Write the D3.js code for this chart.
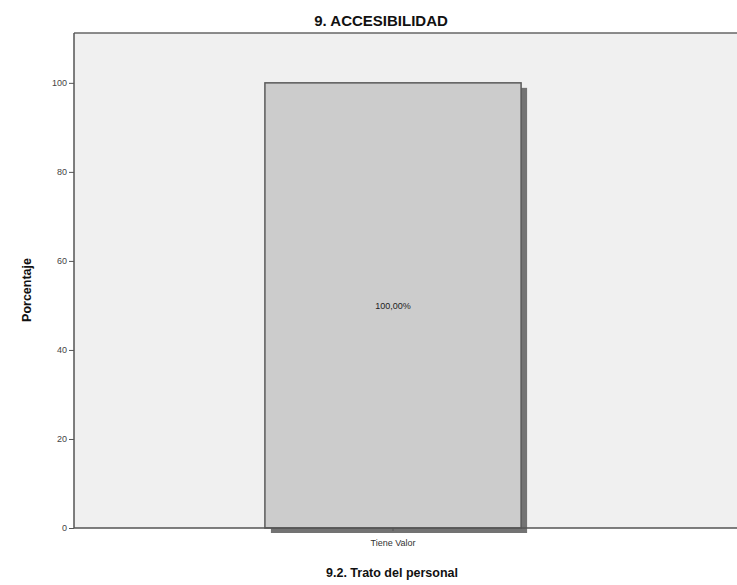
<!DOCTYPE html>
<html>
<head>
<meta charset="utf-8">
<script src="https://cdn.jsdelivr.net/npm/d3@7"></script>
<style>
  body { margin: 0; background: #fff; }
  svg { display: block; font-family: "Liberation Sans", Arial, sans-serif; }
</style>
</head>
<body>
<svg id="chart" width="737" height="585"></svg>
<script>
const categories = ["Tiene Valor"];
const values = [100];
const valueLabels = ["100,00%"];
const yTicks = [0, 20, 40, 60, 80, 100];
const chartTitle = "9. ACCESIBILIDAD";
const xTitle = "9.2. Trato del personal";
const yTitle = "Porcentaje";

const svg = d3.select("#chart");
const plot = { left: 74, top: 33, right: 737, bottom: 528 };

const x = d3.scaleBand().domain(categories).range([plot.left, 712]).padding(0.427);
const y = d3.scaleLinear().domain([0, 111.2]).range([plot.bottom, plot.top]);

// plot background
svg.append("rect")
  .attr("x", plot.left).attr("y", plot.top)
  .attr("width", plot.right - plot.left).attr("height", plot.bottom - plot.top)
  .attr("fill", "#f0f0f0");

// bar shadows
svg.selectAll("rect.shadow").data(values).join("rect")
  .attr("class", "shadow")
  .attr("x", (d, i) => x(categories[i]) + 6)
  .attr("y", d => y(d) + 5)
  .attr("width", x.bandwidth())
  .attr("height", d => plot.bottom - y(d))
  .attr("fill", "#737373");

// bars
svg.selectAll("rect.bar").data(values).join("rect")
  .attr("class", "bar")
  .attr("x", (d, i) => x(categories[i]))
  .attr("y", d => y(d))
  .attr("width", x.bandwidth())
  .attr("height", d => plot.bottom - y(d))
  .attr("fill", "#cccccc")
  .attr("stroke", "#5a5a5a")
  .attr("stroke-width", 1.5);

// value labels
svg.selectAll("text.vlabel").data(values).join("text")
  .attr("class", "vlabel")
  .attr("x", (d, i) => x(categories[i]) + x.bandwidth() / 2)
  .attr("y", d => (y(d) + plot.bottom) / 2)
  .attr("dy", "0.35em")
  .attr("text-anchor", "middle")
  .attr("font-size", 9)
  .attr("fill", "#222")
  .text((d, i) => valueLabels[i]);

// top border
svg.append("line")
  .attr("x1", plot.left).attr("x2", plot.right)
  .attr("y1", plot.top).attr("y2", plot.top)
  .attr("stroke", "#666").attr("stroke-width", 1.5);

// y axis
const yAxis = d3.axisLeft(y).tickValues(yTicks).tickSize(5).tickPadding(2).tickFormat(d3.format("d"));
const gy = svg.append("g").attr("transform", `translate(${plot.left},0)`).call(yAxis);
gy.select(".domain").attr("stroke", "#555").attr("stroke-width", 1.5)
  .attr("d", `M0,${plot.top}V${plot.bottom}`);
gy.selectAll(".tick line").attr("stroke", "#555");
gy.selectAll(".tick text").attr("font-size", 9).attr("fill", "#444")
  .attr("font-family", "Liberation Sans, Arial, sans-serif");

// x axis
const xAxis = d3.axisBottom(x).tickSize(3).tickPadding(9);
const gx = svg.append("g").attr("transform", `translate(0,${plot.bottom})`).call(xAxis);
gx.select(".domain").attr("stroke", "#555").attr("stroke-width", 1.5)
  .attr("d", `M${plot.left},0H${plot.right}`);
gx.selectAll(".tick line").attr("stroke", "#555");
gx.selectAll(".tick text").attr("font-size", 9).attr("fill", "#333")
  .attr("font-family", "Liberation Sans, Arial, sans-serif");

// titles
svg.append("text").attr("x", 381).attr("y", 21).attr("dy", "0.35em")
  .attr("text-anchor", "middle").attr("font-size", 15).attr("font-weight", "bold")
  .attr("fill", "#111").text(chartTitle);

svg.append("text").attr("x", 392).attr("y", 573).attr("dy", "0.35em")
  .attr("text-anchor", "middle").attr("font-size", 12.5).attr("font-weight", "bold")
  .attr("fill", "#111").text(xTitle);

svg.append("text")
  .attr("transform", `translate(27,290) rotate(-90)`)
  .attr("dy", "0.35em")
  .attr("text-anchor", "middle").attr("font-size", 12.5).attr("font-weight", "bold")
  .attr("fill", "#111").text(yTitle);
</script>
</body>
</html>
